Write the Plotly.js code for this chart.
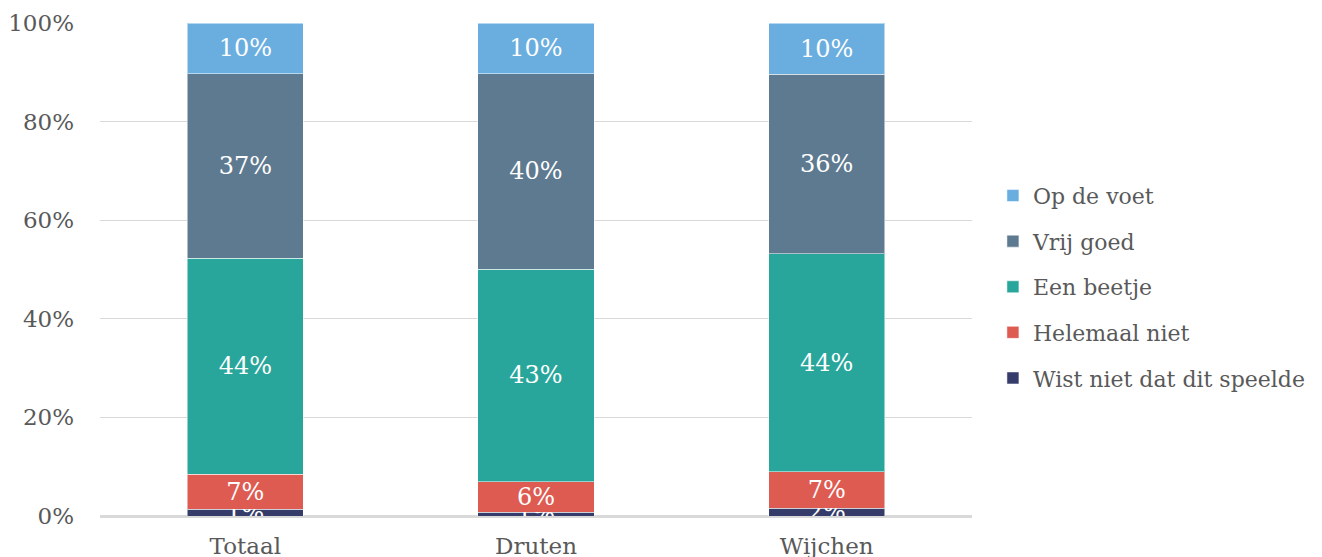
<!DOCTYPE html>
<html><head><meta charset="utf-8">
<script src="https://cdn.plot.ly/plotly-3.0.1.min.js"></script>
<style>html,body{margin:0;padding:0;background:#fff}#c{width:1322px;height:557px}</style>
</head><body><div id="c"></div>
<script>
const categories = ["Totaal", "Druten", "Wijchen"];
const seriesNames = ["Wist niet dat dit speelde", "Helemaal niet", "Een beetje", "Vrij goed", "Op de voet"];
const wistNiet = [1.4, 0.8, 1.6];
const helemaalNiet = [7.1, 6.1, 7.4];
const eenBeetje = [43.8, 43.2, 44.2];
const vrijGoed = [37.4, 39.6, 36.4];
const opDeVoet = [10.3, 10.3, 10.4];
const colors = ["#363c6a", "#de5b52", "#29a69b", "#5e7a90", "#6aaee0"];
const values = [wistNiet, helemaalNiet, eenBeetje, vrijGoed, opDeVoet];
const FONT = "DejaVu Serif, Liberation Serif, serif";

const traces = values.map((v, i) => ({
  type: "bar",
  name: seriesNames[i],
  legendgroup: "g" + i,
  legendrank: 10 - i,
  x: categories,
  y: v,
  text: v.map(d => Math.round(d) + "%"),
  textposition: "inside",
  insidetextanchor: "middle",
  constraintext: "none",
  textangle: 0,
  textfont: {family: FONT, size: 24, color: "#ffffff"},
  marker: {color: colors[i], line: {color: "rgba(255,255,255,0.5)", width: 1}},
  hoverinfo: "skip"
}));

const layout = {
  width: 1322, height: 557,
  margin: {l: 100, r: 350, t: 23, b: 41, autoexpand: false},
  barmode: "stack",
  bargap: 0.6,
  paper_bgcolor: "#fff", plot_bgcolor: "#fff",
  font: {family: FONT, color: "#595959", size: 22},
  xaxis: {
    showgrid: false, showline: false, zeroline: false, ticks: "",
    tickfont: {family: FONT, size: 23, color: "#595959"},
    ticklabelstandoff: 14
  },
  yaxis: {
    range: [0, 100], tickvals: [0, 20, 40, 60, 80, 100],
    ticktext: ["0%", "20%", "40%", "60%", "80%", "100%"],
    showgrid: true, gridcolor: "#d9d9d9", gridwidth: 1,
    zeroline: true, zerolinecolor: "#d9d9d9", zerolinewidth: 3,
    showline: false, ticks: "",
    tickfont: {family: FONT, size: 23, color: "#595959"},
    ticklabelstandoff: 25
  },
  legend: {
    x: 1.024, xanchor: "left", y: 0.465, yanchor: "middle",
    traceorder: "grouped",
    font: {family: FONT, size: 22, color: "#595959"},
    tracegroupgap: 14, itemgap: 0
  },
  showlegend: true
};

Plotly.newPlot("c", traces, layout, {staticPlot: true, displayModeBar: false});
</script>
</body></html>
